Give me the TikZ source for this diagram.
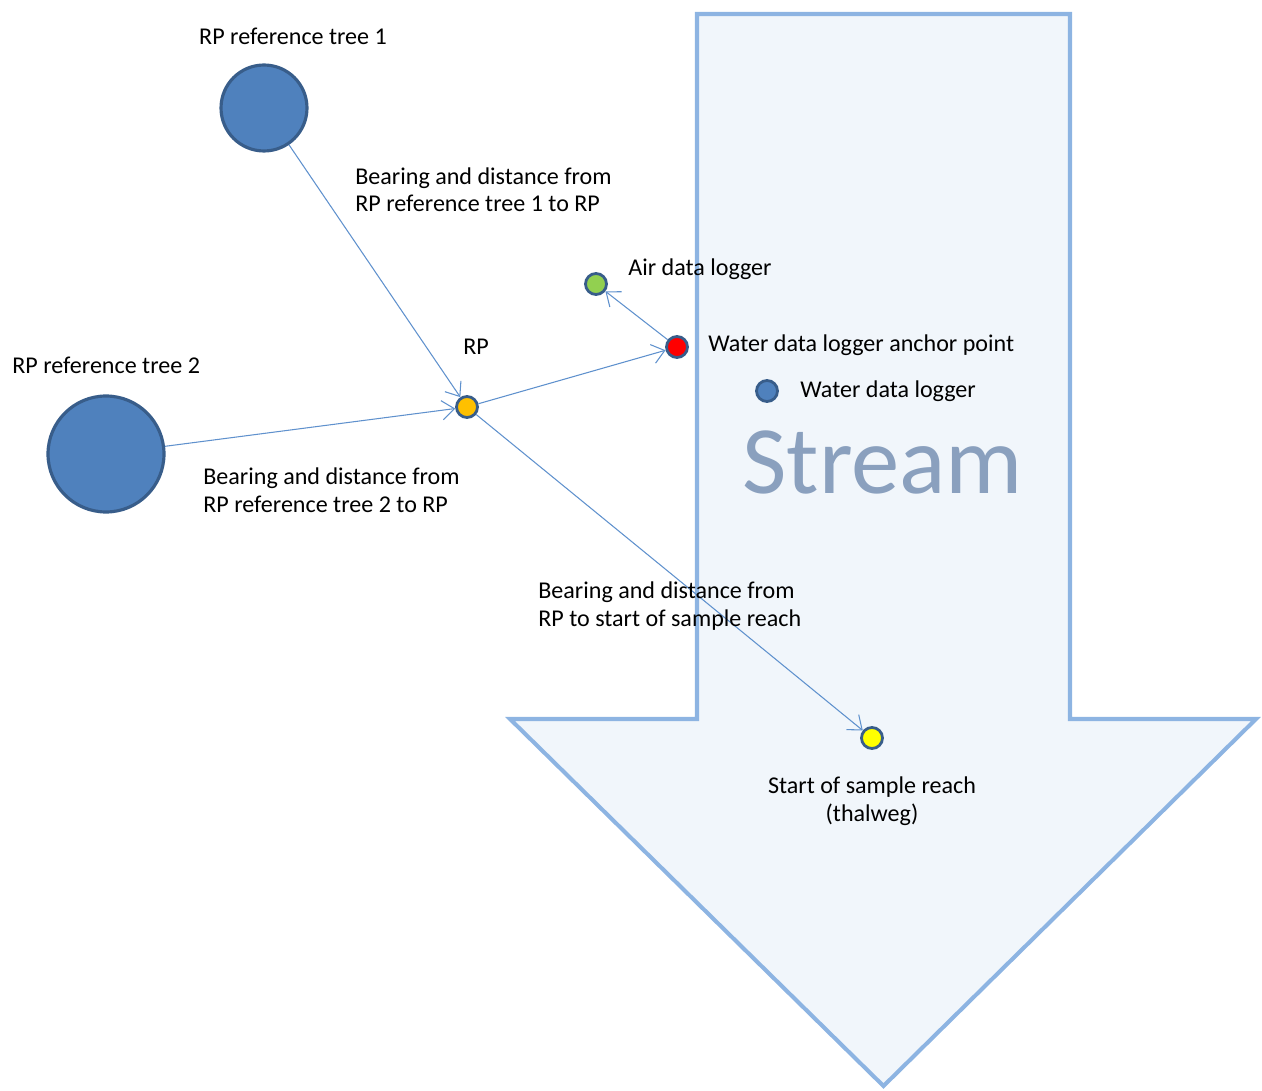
\documentclass[tikz,border=0pt]{standalone}
\usepackage{fontspec}
\setmainfont{Carlito}
\usetikzlibrary{arrows.meta}
\definecolor{strmline}{RGB}{141,180,226}
\definecolor{strmfill}{RGB}{241,246,251}
\definecolor{circfill}{RGB}{79,129,189}
\definecolor{circline}{RGB}{56,93,138}
\definecolor{conn}{RGB}{95,145,205}
\definecolor{streamtxt}{RGB}{138,160,190}
\definecolor{rpfill}{RGB}{255,192,0}
\definecolor{redfill}{RGB}{255,0,0}
\definecolor{greenfill}{RGB}{146,208,80}
\definecolor{yelfill}{RGB}{255,255,0}
\tikzset{
  bigc/.style={circle, draw=circline, line width=1.8pt, fill=circfill, inner sep=0pt},
  smallc/.style={circle, draw=circline, line width=1.6pt, inner sep=0pt, minimum size=0.42cm},
  conn/.style={draw=conn, line width=0.6pt, -{Straight Barb[length=7pt,width=11pt,line width=0.6pt]}},
  lbl/.style={font=\fontsize{13.7}{15.9}\selectfont, inner sep=0pt, text=black, align=left},
}
\begin{document}
\begin{tikzpicture}[x=0.02cm,y=-0.02cm]
\useasboundingbox (0,0) rectangle (1262,1091);
% stream arrow
\draw[draw=strmline, fill=strmfill, line width=2.3pt, line join=miter]
  (697,14) -- (1070,14) -- (1070,719) -- (1256,719) -- (883.5,1086) -- (510,719) -- (697,719) -- cycle;
\node[anchor=base west, inner sep=0pt, text=streamtxt, font=\fontsize{55}{60}\selectfont] (stream) at (742,493) {Stream};
% circles
\node[bigc, minimum size=1.72cm] (t1) at (264,108) {};
\node[bigc, minimum size=2.32cm] (t2) at (106,454) {};
\node[smallc, fill=rpfill] (rp) at (467,407) {};
\node[smallc, fill=redfill] (wa) at (677,347) {};
\node[smallc, fill=greenfill] (air) at (596,284) {};
\node[smallc, fill=circfill] (wl) at (767,391) {};
\node[smallc, fill=yelfill] (ss) at (872,738) {};
% connectors
\draw[conn] (t1) -- (rp);
\draw[conn] (t2) -- (rp);
\draw[conn] (rp) -- (wa);
\draw[conn] (wa) -- (air);
\draw[conn] (rp) -- (ss);
% labels
\node[lbl, anchor=base] (lt1) at (293,45) {RP reference tree 1};
\node[lbl, anchor=base west] (lb1) at (355,212) {Bearing and distance from\\RP reference tree 1 to RP};
\node[lbl, anchor=base west] (lair) at (628,276) {Air data logger};
\node[lbl, anchor=base] (lrp) at (476,355) {RP};
\node[lbl, anchor=base west] (lwa) at (708,352) {Water data logger anchor point};
\node[lbl, anchor=base west] (lwl) at (800,398) {Water data logger};
\node[lbl, anchor=base west] (lt2) at (12,374) {RP reference tree 2};
\node[lbl, anchor=base west] (lb2) at (203,512) {Bearing and distance from\\RP reference tree 2 to RP};
\node[lbl, anchor=base west] (lb3) at (538,626) {Bearing and distance from\\RP to start of sample reach};
\node[lbl, anchor=base, align=center] (lss) at (872,821) {Start of sample reach\\(thalweg)};
\end{tikzpicture}
\end{document}
